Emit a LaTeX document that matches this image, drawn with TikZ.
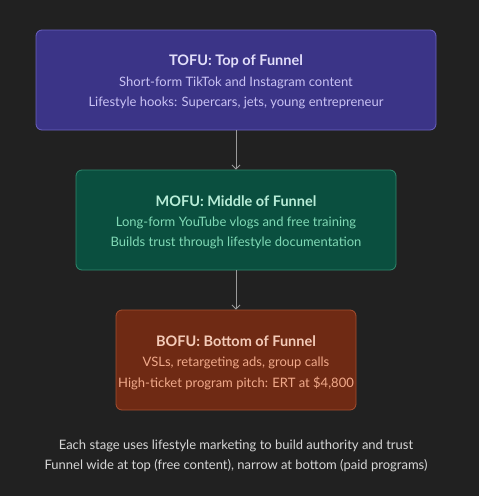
\documentclass[tikz,border=0pt]{standalone}
\usepackage{fontspec}
\setmainfont{Lato}
\usetikzlibrary{arrows.meta}
\definecolor{bg}{HTML}{212121}
\definecolor{tofill}{HTML}{3B3487}
\definecolor{todraw}{HTML}{6B62C2}
\definecolor{totitle}{HTML}{E2DEFA}
\definecolor{totext}{HTML}{C9C2F4}
\definecolor{mofill}{HTML}{0A4F3F}
\definecolor{modraw}{HTML}{2F8A6E}
\definecolor{motitle}{HTML}{B8EDD8}
\definecolor{motext}{HTML}{80D9B5}
\definecolor{bofill}{HTML}{6F2A14}
\definecolor{bodraw}{HTML}{A54F30}
\definecolor{botitle}{HTML}{F4CBB8}
\definecolor{botext}{HTML}{F1AA8B}
\definecolor{arrowc}{HTML}{9A9A9A}
\definecolor{foot}{HTML}{D6D6D6}
\tikzset{
  stagebox/.style={draw, line width=0.8pt, rounded corners=6pt, minimum height=100pt, align=center, inner sep=0pt},
  ttl/.style={font=\bfseries\fontsize{14.5}{17}\selectfont},
  bdy/.style={font=\fontsize{13}{15}\selectfont},
  conn/.style={draw=arrowc, line width=0.9pt, -{Straight Barb[length=4pt,width=8pt]}},
  foottext/.style={text=foot, font=\fontsize{13}{15}\selectfont}
}
\begin{document}
\begin{tikzpicture}[x=1pt,y=-1pt]
\useasboundingbox[fill=bg] (0,0) rectangle (479,496);
\node[stagebox, fill=tofill, draw=todraw, minimum width=400pt] (tofu) at (236,80) {};
\node[ttl, text=totitle] (tofut) at (236,61) {TOFU: Top of Funnel};
\node[bdy, text=totext] (tofu1) at (236,83) {Short-form TikTok and Instagram content};
\node[bdy, text=totext] (tofu2) at (236,103) {Lifestyle hooks: Supercars, jets, young entrepreneur};

\node[stagebox, fill=mofill, draw=modraw, minimum width=320pt] (mofu) at (236,220) {};
\node[ttl, text=motitle] (mofut) at (236,201) {MOFU: Middle of Funnel};
\node[bdy, text=motext] (mofu1) at (236,223) {Long-form YouTube vlogs and free training};
\node[bdy, text=motext] (mofu2) at (236,243) {Builds trust through lifestyle documentation};

\node[stagebox, fill=bofill, draw=bodraw, minimum width=240pt] (bofu) at (236,360) {};
\node[ttl, text=botitle] (bofut) at (236,341) {BOFU: Bottom of Funnel};
\node[bdy, text=botext] (bofu1) at (236,363) {VSLs, retargeting ads, group calls};
\node[bdy, text=botext] (bofu2) at (236,383) {High-ticket program pitch: ERT at \$4,800};

\draw[conn] (tofu.south) -- (mofu.north);
\draw[conn] (mofu.south) -- (bofu.north);

\node[foottext] (f1) at (236,446) {Each stage uses lifestyle marketing to build authority and trust};
\node[foottext] (f2) at (236,466) {Funnel wide at top (free content), narrow at bottom (paid programs)};
\end{tikzpicture}
\end{document}
